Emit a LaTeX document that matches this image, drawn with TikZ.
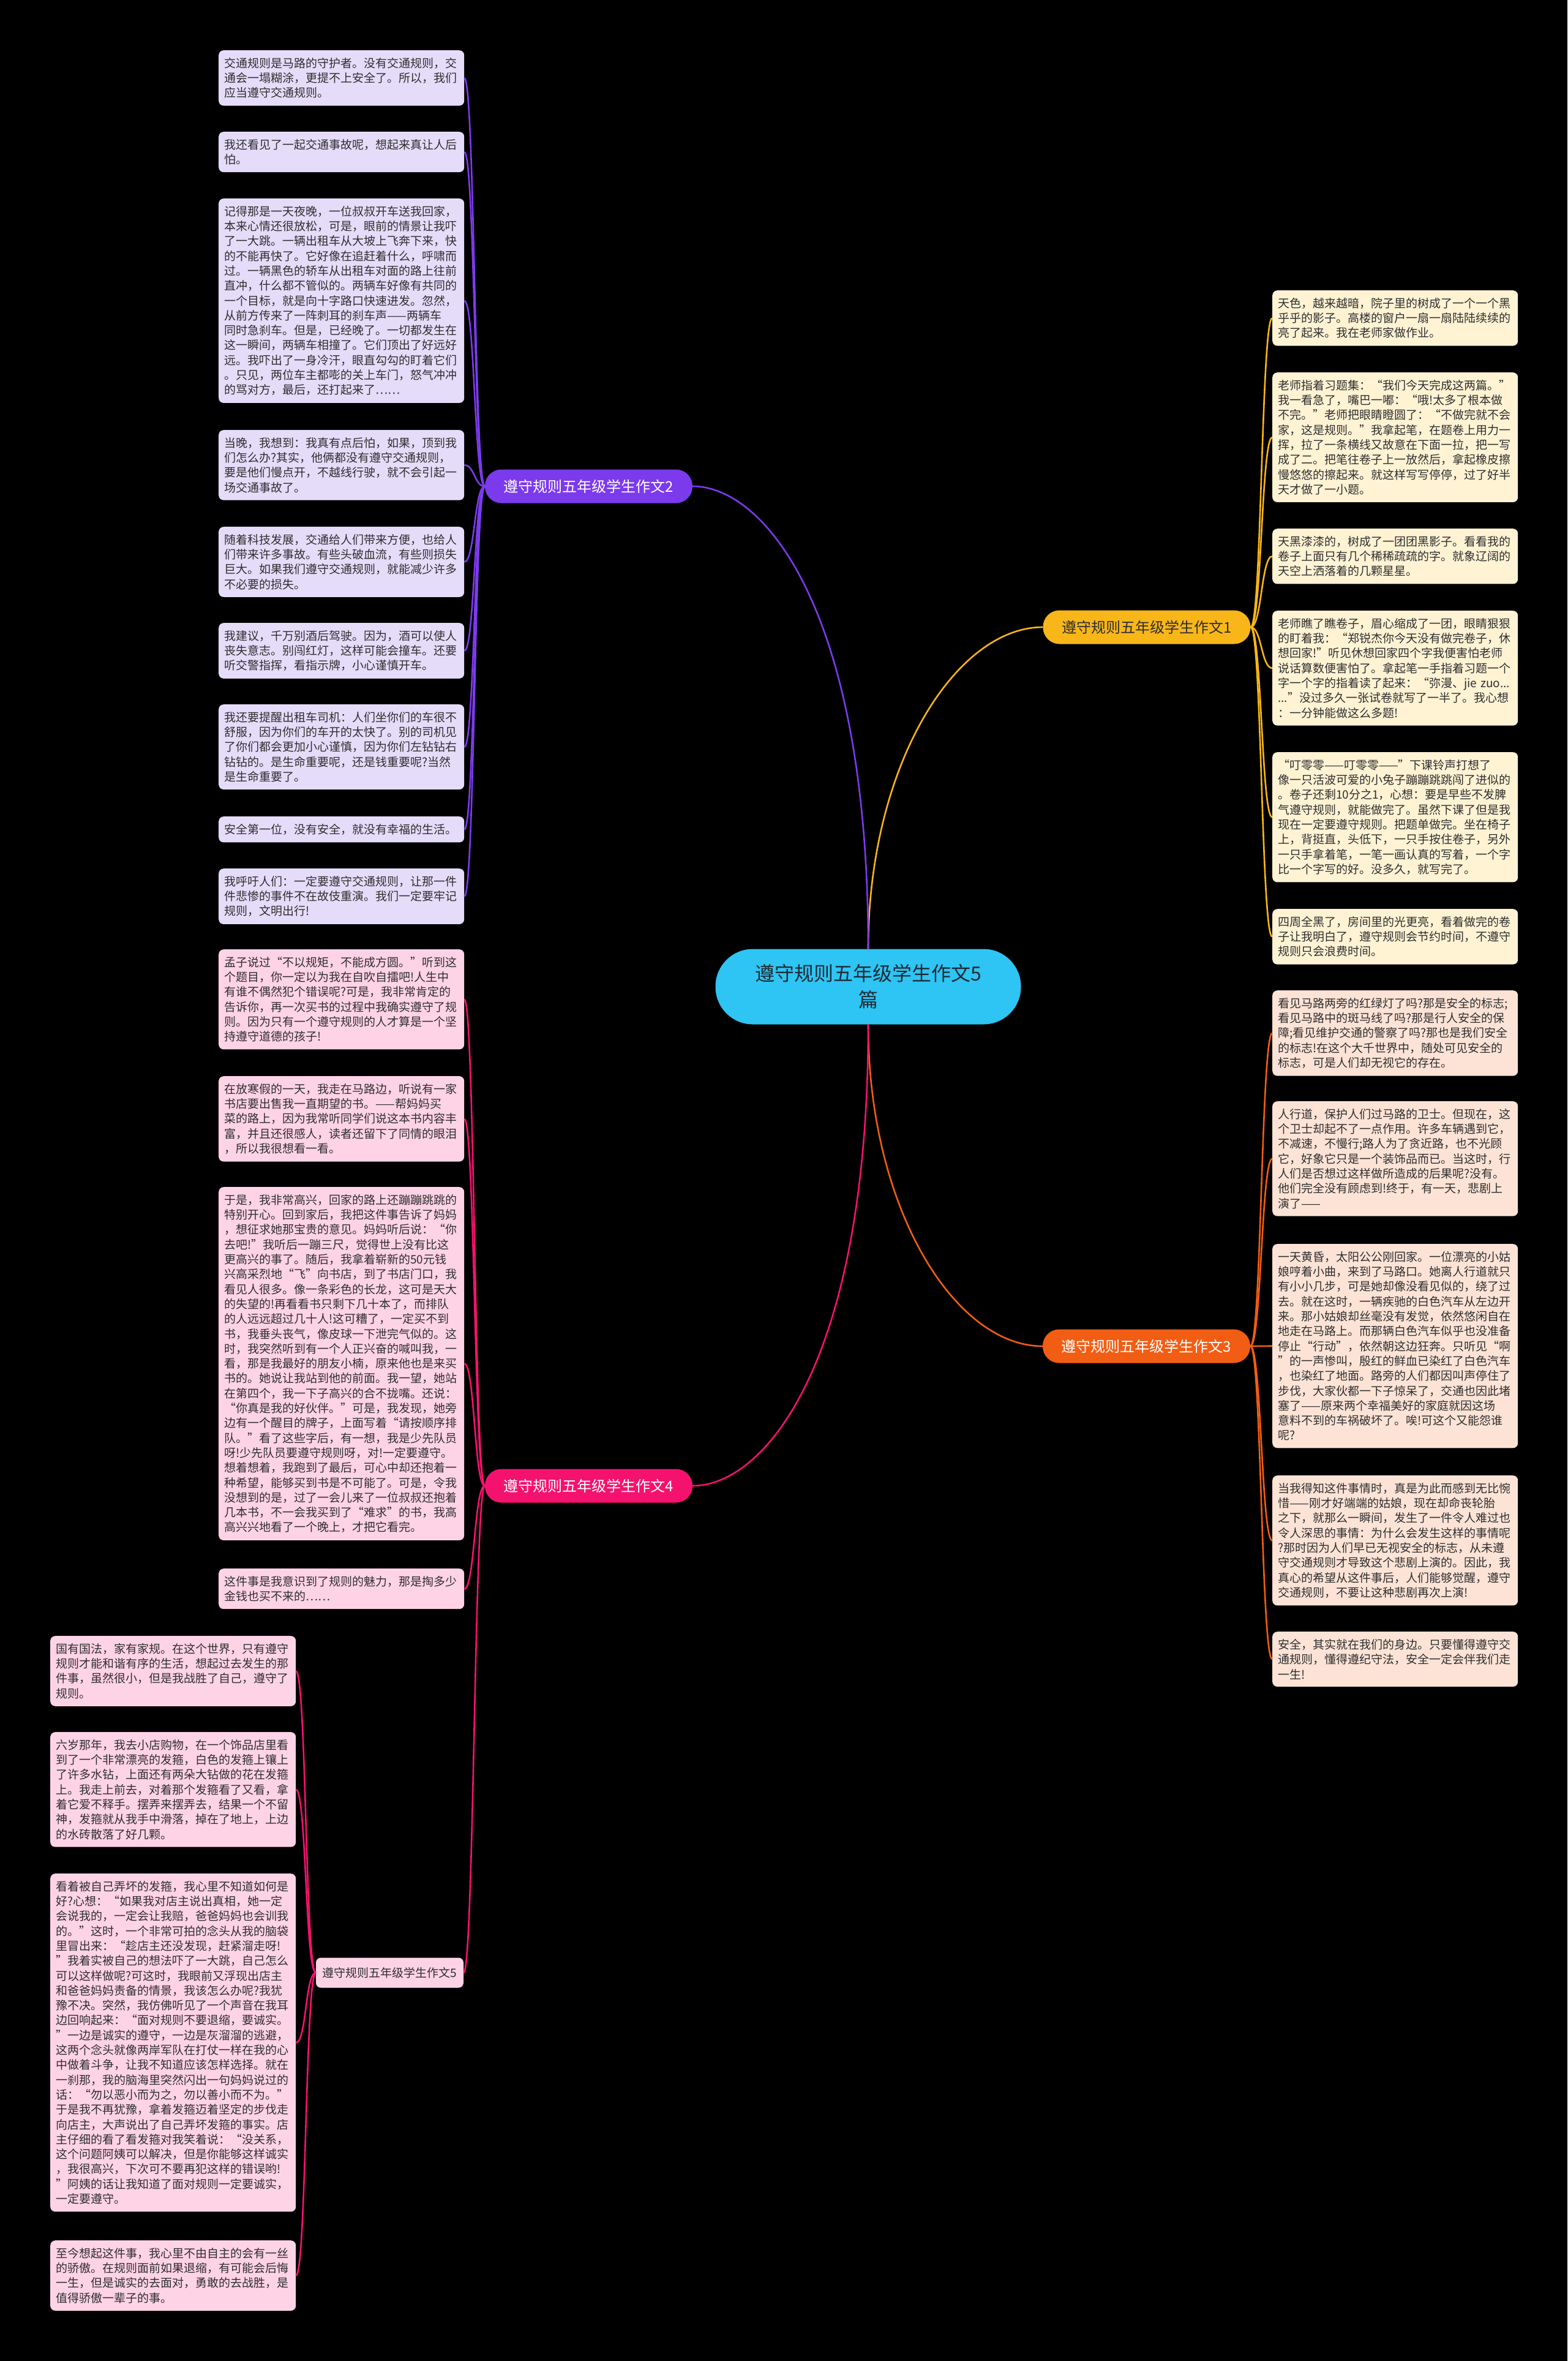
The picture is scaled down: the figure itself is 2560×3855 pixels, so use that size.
\documentclass[tikz,border=0pt]{standalone}
\usepackage{fontspec}
\usepackage{tikz}
\newfontfamily\cjk{Noto Sans CJK SC}
\definecolor{rootcyan}{HTML}{2EC4F3}
\definecolor{roottext}{HTML}{1E2A35}
\definecolor{gold}{HTML}{F8B619}
\definecolor{violet}{HTML}{7C3AED}
\definecolor{tangerine}{HTML}{F25D14}
\definecolor{rose}{HTML}{F5126E}
\definecolor{cream}{HTML}{FFF3D4}
\definecolor{lavender}{HTML}{E5DCFA}
\definecolor{peach}{HTML}{FCE3D6}
\definecolor{blush}{HTML}{FFD3E6}
\definecolor{inktext}{HTML}{2E2E2E}

\begin{document}
\begin{tikzpicture}[x=1pt,y=-1pt,
 root/.style={fill=rootcyan,text=roottext,rounded corners=61pt,minimum width=499pt,
   minimum height=123pt,inner sep=0pt,align=center,font=\cjk\fontsize{32}{43}\selectfont},
 topic/.style={rounded corners=27pt,minimum width=339pt,minimum height=55pt,inner sep=0pt,
   font=\cjk\fontsize{24}{29}\selectfont},
 subtopic/.style={fill=blush,text=inktext,rounded corners=8pt,minimum width=241pt,
   minimum height=49pt,inner sep=0pt,font=\cjk\fontsize{19}{24}\selectfont},
 leaf/.style={rounded corners=8pt,anchor=north west,text width=383pt,inner xsep=9pt,
   inner ysep=12pt,align=left,text=inktext,font=\cjk\fontsize{19}{24.3}\selectfont},
 link/.style={line width=2.6pt}]
\fill[black] (0,0) rectangle (2560,3855);
\useasboundingbox (0,0) rectangle (2560,3855);

% centre and main topics
\node[root] (root) at (1418,1611) {遵守规则五年级学生作文5\\篇};
\node[topic,fill=gold,text=inktext] (t1) at (1873,1024) {遵守规则五年级学生作文1};
\node[topic,fill=violet,text=white] (t2) at (961.5,794) {遵守规则五年级学生作文2};
\node[topic,fill=tangerine,text=white] (t3) at (1872.5,2198) {遵守规则五年级学生作文3};
\node[topic,fill=rose,text=white] (t4) at (961.5,2426) {遵守规则五年级学生作文4};
\node[subtopic] (t5) at (636.5,3221) {遵守规则五年级学生作文5};

% essay 1
\node[leaf,fill=cream] (a1) at (2078,474) {天色，越来越暗，院子里的树成了一个一个黑\\
乎乎的影子。高楼的窗户一扇一扇陆陆续续的\\
亮了起来。我在老师家做作业。};
\node[leaf,fill=cream] (a2) at (2078,608) {老师指着习题集：“我们今天完成这两篇。”\\
我一看急了，嘴巴一嘟：“哦!太多了根本做\\
不完。”老师把眼睛瞪圆了：“不做完就不会\\
家，这是规则。”我拿起笔，在题卷上用力一\\
挥，拉了一条横线又故意在下面一拉，把一写\\
成了二。把笔往卷子上一放然后，拿起橡皮擦\\
慢悠悠的擦起来。就这样写写停停，过了好半\\
天才做了一小题。};
\node[leaf,fill=cream] (a3) at (2078,863) {天黑漆漆的，树成了一团团黑影子。看看我的\\
卷子上面只有几个稀稀疏疏的字。就象辽阔的\\
天空上洒落着的几颗星星。};
\node[leaf,fill=cream] (a4) at (2078,997) {老师瞧了瞧卷子，眉心缩成了一团，眼睛狠狠\\
的盯着我：“郑锐杰你今天没有做完卷子，休\\
想回家!”听见休想回家四个字我便害怕老师\\
说话算数便害怕了。拿起笔一手指着习题一个\\
字一个字的指着读了起来：“弥漫、jie zuo...\\
...”没过多久一张试卷就写了一半了。我心想\\
：一分钟能做这么多题!};
\node[leaf,fill=cream] (a5) at (2078,1228) {“叮零零——叮零零——”下课铃声打想了\\
像一只活波可爱的小兔子蹦蹦跳跳闯了进似的\\
。卷子还剩10分之1，心想：要是早些不发脾\\
气遵守规则，就能做完了。虽然下课了但是我\\
现在一定要遵守规则。把题单做完。坐在椅子\\
上，背挺直，头低下，一只手按住卷子，另外\\
一只手拿着笔，一笔一画认真的写着，一个字\\
比一个字写的好。没多久，就写完了。};
\node[leaf,fill=cream] (a6) at (2078,1484) {四周全黑了，房间里的光更亮，看着做完的卷\\
子让我明白了，遵守规则会节约时间，不遵守\\
规则只会浪费时间。};

% essay 2
\node[leaf,fill=lavender] (b1) at (357,82) {交通规则是马路的守护者。没有交通规则，交\\
通会一塌糊涂，更提不上安全了。所以，我们\\
应当遵守交通规则。};
\node[leaf,fill=lavender] (b2) at (357,215) {我还看见了一起交通事故呢，想起来真让人后\\
怕。};
\node[leaf,fill=lavender] (b3) at (357,324) {记得那是一天夜晚，一位叔叔开车送我回家，\\
本来心情还很放松，可是，眼前的情景让我吓\\
了一大跳。一辆出租车从大坡上飞奔下来，快\\
的不能再快了。它好像在追赶着什么，呼啸而\\
过。一辆黑色的轿车从出租车对面的路上往前\\
直冲，什么都不管似的。两辆车好像有共同的\\
一个目标，就是向十字路口快速进发。忽然，\\
从前方传来了一阵刺耳的刹车声——两辆车\\
同时急刹车。但是，已经晚了。一切都发生在\\
这一瞬间，两辆车相撞了。它们顶出了好远好\\
远。我吓出了一身冷汗，眼直勾勾的盯着它们\\
。只见，两位车主都嘭的关上车门，怒气冲冲\\
的骂对方，最后，还打起来了……};
\node[leaf,fill=lavender] (b4) at (357,702) {当晚，我想到：我真有点后怕，如果，顶到我\\
们怎么办?其实，他俩都没有遵守交通规则，\\
要是他们慢点开，不越线行驶，就不会引起一\\
场交通事故了。};
\node[leaf,fill=lavender] (b5) at (357,860) {随着科技发展，交通给人们带来方便，也给人\\
们带来许多事故。有些头破血流，有些则损失\\
巨大。如果我们遵守交通规则，就能减少许多\\
不必要的损失。};
\node[leaf,fill=lavender] (b6) at (357,1017) {我建议，千万别酒后驾驶。因为，酒可以使人\\
丧失意志。别闯红灯，这样可能会撞车。还要\\
听交警指挥，看指示牌，小心谨慎开车。};
\node[leaf,fill=lavender] (b7) at (357,1150) {我还要提醒出租车司机：人们坐你们的车很不\\
舒服，因为你们的车开的太快了。别的司机见\\
了你们都会更加小心谨慎，因为你们左钻钻右\\
钻钻的。是生命重要呢，还是钱重要呢?当然\\
是生命重要了。};
\node[leaf,fill=lavender] (b8) at (357,1333) {安全第一位，没有安全，就没有幸福的生活。};
\node[leaf,fill=lavender] (b9) at (357,1418) {我呼吁人们：一定要遵守交通规则，让那一件\\
件悲惨的事件不在故伎重演。我们一定要牢记\\
规则，文明出行!};

% essay 3
\node[leaf,fill=peach] (c1) at (2078,1617) {看见马路两旁的红绿灯了吗?那是安全的标志;\\
看见马路中的斑马线了吗?那是行人安全的保\\
障;看见维护交通的警察了吗?那也是我们安全\\
的标志!在这个大千世界中，随处可见安全的\\
标志，可是人们却无视它的存在。};
\node[leaf,fill=peach] (c2) at (2078,1798) {人行道，保护人们过马路的卫士。但现在，这\\
个卫士却起不了一点作用。许多车辆遇到它，\\
不减速，不慢行;路人为了贪近路，也不光顾\\
它，好象它只是一个装饰品而已。当这时，行\\
人们是否想过这样做所造成的后果呢?没有。\\
他们完全没有顾虑到!终于，有一天，悲剧上\\
演了——};
\node[leaf,fill=peach] (c3) at (2078,2031) {一天黄昏，太阳公公刚回家。一位漂亮的小姑\\
娘哼着小曲，来到了马路口。她离人行道就只\\
有小小几步，可是她却像没看见似的，绕了过\\
去。就在这时，一辆疾驰的白色汽车从左边开\\
来。那小姑娘却丝毫没有发觉，依然悠闲自在\\
地走在马路上。而那辆白色汽车似乎也没准备\\
停止“行动”，依然朝这边狂奔。只听见“啊\\
”的一声惨叫，殷红的鲜血已染红了白色汽车\\
，也染红了地面。路旁的人们都因叫声停住了\\
步伐，大家伙都一下子惊呆了，交通也因此堵\\
塞了——原来两个幸福美好的家庭就因这场\\
意料不到的车祸破坏了。唉!可这个又能怨谁\\
呢?};
\node[leaf,fill=peach] (c4) at (2078,2409) {当我得知这件事情时，真是为此而感到无比惋\\
惜——刚才好端端的姑娘，现在却命丧轮胎\\
之下，就那么一瞬间，发生了一件令人难过也\\
令人深思的事情：为什么会发生这样的事情呢\\
?那时因为人们早已无视安全的标志，从未遵\\
守交通规则才导致这个悲剧上演的。因此，我\\
真心的希望从这件事后，人们能够觉醒，遵守\\
交通规则，不要让这种悲剧再次上演!};
\node[leaf,fill=peach] (c5) at (2078,2664) {安全，其实就在我们的身边。只要懂得遵守交\\
通规则，懂得遵纪守法，安全一定会伴我们走\\
一生!};

% essay 4
\node[leaf,fill=blush] (d1) at (357,1550) {孟子说过“不以规矩，不能成方圆。”听到这\\
个题目，你一定以为我在自吹自擂吧!人生中\\
有谁不偶然犯个错误呢?可是，我非常肯定的\\
告诉你，再一次买书的过程中我确实遵守了规\\
则。因为只有一个遵守规则的人才算是一个坚\\
持遵守道德的孩子!};
\node[leaf,fill=blush] (d2) at (357,1757) {在放寒假的一天，我走在马路边，听说有一家\\
书店要出售我一直期望的书。——帮妈妈买\\
菜的路上，因为我常听同学们说这本书内容丰\\
富，并且还很感人，读者还留下了同情的眼泪\\
，所以我很想看一看。};
\node[leaf,fill=blush] (d3) at (357,1938) {于是，我非常高兴，回家的路上还蹦蹦跳跳的\\
特别开心。回到家后，我把这件事告诉了妈妈\\
，想征求她那宝贵的意见。妈妈听后说：“你\\
去吧!”我听后一蹦三尺，觉得世上没有比这\\
更高兴的事了。随后，我拿着崭新的50元钱\\
兴高采烈地“飞”向书店，到了书店门口，我\\
看见人很多。像一条彩色的长龙，这可是天大\\
的失望的!再看看书只剩下几十本了，而排队\\
的人远远超过几十人!这可糟了，一定买不到\\
书，我垂头丧气，像皮球一下泄完气似的。这\\
时，我突然听到有一个人正兴奋的喊叫我，一\\
看，那是我最好的朋友小楠，原来他也是来买\\
书的。她说让我站到他的前面。我一望，她站\\
在第四个，我一下子高兴的合不拢嘴。还说：\\
“你真是我的好伙伴。”可是，我发现，她旁\\
边有一个醒目的牌子，上面写着“请按顺序排\\
队。”看了这些字后，有一想，我是少先队员\\
呀!少先队员要遵守规则呀，对!一定要遵守。\\
想着想着，我跑到了最后，可心中却还抱着一\\
种希望，能够买到书是不可能了。可是，令我\\
没想到的是，过了一会儿来了一位叔叔还抱着\\
几本书，不一会我买到了“难求”的书，我高\\
高兴兴地看了一个晚上，才把它看完。};
\node[leaf,fill=blush] (d4) at (357,2561) {这件事是我意识到了规则的魅力，那是掏多少\\
金钱也买不来的……};

% essay 5
\node[leaf,fill=blush] (e1) at (82,2671) {国有国法，家有家规。在这个世界，只有遵守\\
规则才能和谐有序的生活，想起过去发生的那\\
件事，虽然很小，但是我战胜了自己，遵守了\\
规则。};
\node[leaf,fill=blush] (e2) at (82,2828) {六岁那年，我去小店购物，在一个饰品店里看\\
到了一个非常漂亮的发箍，白色的发箍上镶上\\
了许多水钻，上面还有两朵大钻做的花在发箍\\
上。我走上前去，对着那个发箍看了又看，拿\\
着它爱不释手。摆弄来摆弄去，结果一个不留\\
神，发箍就从我手中滑落，掉在了地上，上边\\
的水砖散落了好几颗。};
\node[leaf,fill=blush] (e3) at (82,3059) {看着被自己弄坏的发箍，我心里不知道如何是\\
好?心想：“如果我对店主说出真相，她一定\\
会说我的，一定会让我赔，爸爸妈妈也会训我\\
的。”这时，一个非常可拍的念头从我的脑袋\\
里冒出来：“趁店主还没发现，赶紧溜走呀!\\
”我着实被自己的想法吓了一大跳，自己怎么\\
可以这样做呢?可这时，我眼前又浮现出店主\\
和爸爸妈妈责备的情景，我该怎么办呢?我犹\\
豫不决。突然，我仿佛听见了一个声音在我耳\\
边回响起来：“面对规则不要退缩，要诚实。\\
”一边是诚实的遵守，一边是灰溜溜的逃避，\\
这两个念头就像两岸军队在打仗一样在我的心\\
中做着斗争，让我不知道应该怎样选择。就在\\
一刹那，我的脑海里突然闪出一句妈妈说过的\\
话：“勿以恶小而为之，勿以善小而不为。”\\
于是我不再犹豫，拿着发箍迈着坚定的步伐走\\
向店主，大声说出了自己弄坏发箍的事实。店\\
主仔细的看了看发箍对我笑着说：“没关系，\\
这个问题阿姨可以解决，但是你能够这样诚实\\
，我很高兴，下次可不要再犯这样的错误哟!\\
”阿姨的话让我知道了面对规则一定要诚实，\\
一定要遵守。};
\node[leaf,fill=blush] (e4) at (82,3658) {至今想起这件事，我心里不由自主的会有一丝\\
的骄傲。在规则面前如果退缩，有可能会后悔\\
一生，但是诚实的去面对，勇敢的去战胜，是\\
值得骄傲一辈子的事。};

% links
\draw[link,gold] (root.north) .. controls +(0,-299) and +(-143,0) .. (t1.west);
\draw[link,violet] (root.north) .. controls +(0,-549) and +(119,0) .. (t2.east);
\draw[link,tangerine] (root.south) .. controls +(0,299) and +(-144,0) .. (t3.west);
\draw[link,rose] (root.south) .. controls +(0,549) and +(119,0) .. (t4.east);
\foreach \n in {a1,a2,a3,a4,a5,a6}
  {\draw[link,gold] (t1.east) .. controls +(18,0) and +(-18,0) .. (\n.west);}
\foreach \n in {b1,b2,b3,b4,b5,b6,b7,b8,b9}
  {\draw[link,violet] (t2.west) .. controls +(-17,0) and +(17,0) .. (\n.east);}
\foreach \n in {c1,c2,c3,c4,c5}
  {\draw[link,tangerine] (t3.east) .. controls +(18,0) and +(-18,0) .. (\n.west);}
\foreach \n in {d1,d2,d3,d4,t5}
  {\draw[link,rose] (t4.west) .. controls +(-17,0) and +(17,0) .. (\n.east);}
\foreach \n in {e1,e2,e3,e4}
  {\draw[link,rose] (t5.west) .. controls +(-17,0) and +(17,0) .. (\n.east);}
\end{tikzpicture}
\end{document}
